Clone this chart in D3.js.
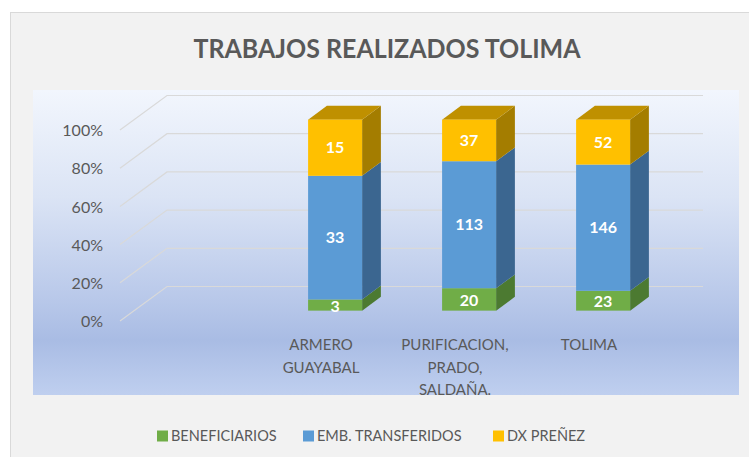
<!DOCTYPE html>
<html>
<head>
<meta charset="utf-8">
<script src="https://cdn.jsdelivr.net/npm/d3@7/dist/d3.min.js"></script>
<style>
  html, body { margin: 0; padding: 0; background: #ffffff; }
  svg { display: block; }
  text { font-family: Lato, "Open Sans", "Liberation Sans", sans-serif; }
</style>
</head>
<body>
<svg id="chart" width="749" height="457"></svg>
<script>
// Chart data
const categories = [["ARMERO", "GUAYABAL"], ["PURIFICACION,", "PRADO,", "SALDAÑA."], ["TOLIMA"]];
const seriesNames = ["BENEFICIARIOS", "EMB. TRANSFERIDOS", "DX PREÑEZ"];
const beneficiarios = [3, 20, 23];
const embTransferidos = [33, 113, 146];
const dxPrenez = [15, 37, 52];
const yTicks = [0, 0.2, 0.4, 0.6, 0.8, 1];
const title = "TRABAJOS REALIZADOS TOLIMA";

const colors = {
  front: ["#70ad47", "#5b9bd5", "#ffc000"],
  side:  ["#4c7a31", "#3b6690", "#a47d00"],
  top:   ["#5a8a3a", "#4a80b2", "#bf9000"]
};

const svg = d3.select("#chart");
const W = 749, H = 457;

// Outer chart area
svg.append("rect").attr("x", 10.5).attr("y", 12.5).attr("width", W).attr("height", H)
  .attr("fill", "#f2f2f2").attr("stroke", "#d9d9d9").attr("stroke-width", 1);

// Plot area background gradient
const defs = svg.append("defs");
const grad = defs.append("linearGradient").attr("id", "plotBg")
  .attr("x1", 0).attr("y1", 0).attr("x2", 0).attr("y2", 1);
[[0, "#f2f6fd"], [0.35, "#dbe4f5"], [0.7, "#b7c7e9"], [0.82, "#a9bce4"], [1, "#bfcfef"]]
  .forEach(([o, c]) => grad.append("stop").attr("offset", o).attr("stop-color", c));
svg.append("rect").attr("x", 33).attr("y", 90).attr("width", 706).attr("height", 305)
  .attr("fill", "url(#plotBg)");

// Title
svg.append("text").attr("x", 387).attr("y", 58).attr("text-anchor", "middle")
  .attr("font-size", 26).attr("font-weight", 700).attr("fill", "#595959")
  .attr("textLength", 387).attr("lengthAdjust", "spacingAndGlyphs")
  .text(title);

// 3D projection: depth d in [0,1] shifts right and up
const depthDX = 47, depthDY = -34.5;
const slots = ["", ...categories.map(c => c.join(" "))];
const x = d3.scaleBand().domain(slots).range([120, 656]);
const y = d3.scaleLinear().domain([0, 1]).range([321, 130]);
const P = (px, py, d) => [px + d * depthDX, py + d * depthDY];

// Gridlines: slanted floor-to-wall segment plus the back-wall line
const grid = svg.append("g");
yTicks.forEach(t => {
  const a = P(x.range()[0], y(t), 0), b = P(x.range()[0], y(t), 1), c = P(x.range()[1], y(t), 1);
  grid.append("path").attr("d", d3.line()([a, b, c]))
    .attr("fill", "none").attr("stroke", "#d9d9d9").attr("stroke-width", 1.2);
});

// Value axis
const yAxis = svg.append("g").attr("transform", "translate(120,0)")
  .call(d3.axisLeft(y).tickValues(yTicks).tickFormat(d3.format(".0%")).tickSize(0).tickPadding(17));
yAxis.select(".domain").remove();
yAxis.selectAll("text").attr("font-size", 16).attr("fill", "#595959")
  .attr("font-family", "Lato, 'Open Sans', sans-serif").attr("dy", "0.35em");

// Stacked (100%) data
const rows = categories.map((c, i) => ({
  key: slots[i + 1],
  [seriesNames[0]]: beneficiarios[i],
  [seriesNames[1]]: embTransferidos[i],
  [seriesNames[2]]: dxPrenez[i]
}));
const stacked = d3.stack().keys(seriesNames).offset(d3.stackOffsetExpand)(rows);

const barW = x.bandwidth() * 0.403;
const d0 = 0.3, d1 = 0.7;
const bars = svg.append("g");
stacked.forEach((layer, si) => {
  layer.forEach((seg, ci) => {
    const cx = x(seg.data.key) + x.bandwidth() / 2;
    const xl = cx - barW / 2, xr = cx + barW / 2;
    const yb = y(seg[0]), yt = y(seg[1]);
    // side face
    bars.append("path")
      .attr("d", d3.line()([P(xr, yb, d0), P(xr, yb, d1), P(xr, yt, d1), P(xr, yt, d0)]) + "Z")
      .attr("fill", colors.side[si]);
    // top face for the uppermost segment
    if (si === stacked.length - 1) {
      bars.append("path")
        .attr("d", d3.line()([P(xl, yt, d0), P(xr, yt, d0), P(xr, yt, d1), P(xl, yt, d1)]) + "Z")
        .attr("fill", colors.top[si]);
    }
    // front face
    const f0 = P(xl, yt, d0), f1 = P(xr, yb, d0);
    bars.append("rect").attr("x", f0[0]).attr("y", f0[1])
      .attr("width", f1[0] - f0[0]).attr("height", f1[1] - f0[1])
      .attr("fill", colors.front[si]);
    // value label
    const v = seg.data[seriesNames[si]];
    bars.append("text").attr("x", (f0[0] + f1[0]) / 2).attr("y", (f0[1] + f1[1]) / 2 + (si === 0 ? 1 : 0))
      .attr("dy", "0.36em").attr("text-anchor", "middle")
      .attr("font-size", 16).attr("font-weight", 700).attr("fill", "#ffffff")
      .text(v);
  });
});

// Category labels along the front edge of the floor
const cat = svg.append("g");
categories.forEach((lines, i) => {
  const cx = x(slots[i + 1]) + x.bandwidth() / 2;
  lines.forEach((ln, j) => {
    cat.append("text").attr("x", cx).attr("y", 345 + j * 22.5).attr("dy", "0.35em")
      .attr("text-anchor", "middle").attr("font-size", 15).attr("fill", "#595959").text(ln);
  });
});

// Legend
const legendX = [157, 303, 493];
const legend = svg.append("g");
seriesNames.forEach((name, i) => {
  legend.append("rect").attr("x", legendX[i]).attr("y", 430.5).attr("width", 11).attr("height", 11)
    .attr("fill", colors.front[i]);
  legend.append("text").attr("x", legendX[i] + 14).attr("y", 436).attr("dy", "0.35em")
    .attr("font-size", 14.5).attr("fill", "#595959").text(name);
});
</script>
</body>
</html>
